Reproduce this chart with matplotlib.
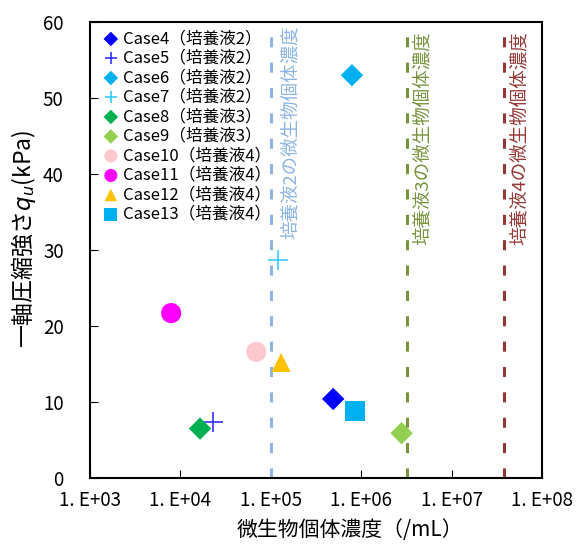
import numpy as np
import matplotlib.pyplot as plt

plt.rcParams['font.family'] = ['Noto Sans CJK JP', 'DejaVu Sans']
plt.rcParams['mathtext.fontset'] = 'dejavusans'

labels = ['Case4（培養液2）', 'Case5（培養液2）', 'Case6（培養液2）', 'Case7（培養液2）',
          'Case8（培養液3）', 'Case9（培養液3）', 'Case10（培養液4）', 'Case11（培養液4）',
          'Case12（培養液4）', 'Case13（培養液4）']
conc = [4.9e5, 2.3e4, 7.9e5, 1.2e5, 1.65e4, 2.8e6, 6.9e4, 7.9e3, 1.3e5, 8.5e5]
qu = [10.4, 7.4, 53.0, 28.7, 6.5, 5.9, 16.6, 21.7, 15.2, 8.8]

markers = ['D', '+', 'D', '+', 'D', 'D', 'o', 'o', '^', 's']
colors = ['#0000FF', '#3333FF', '#00B0F0', '#33CCFF', '#00B050', '#92D050',
          '#FFC7CE', '#FF00FF', '#FFC000', '#00B0F0']
sizes = [130, 190, 130, 190, 130, 130, 210, 210, 190, 200]

# 培養液ごとの微生物個体濃度
line_x = [1.0e5, 3.2e6, 3.8e7]
line_colors = ['#8DB4E2', '#77933C', '#953735']
line_labels = ['培養液2の微生物個体濃度', '培養液3の微生物個体濃度', '培養液4の微生物個体濃度']
text_top = [59.6, 58.8, 58.8]
text_dx = [11, 7, 7]

fig = plt.figure(figsize=(5.81, 5.44), dpi=100)
ax = fig.add_axes([90 / 581, 1 - 478 / 544, 452 / 581, 456 / 544])

for xv, c, t, yt, dx in zip(line_x, line_colors, line_labels, text_top, text_dx):
    ax.axvline(xv, color=c, lw=2.2, ls=(0, (3.3, 5)))
    ax.annotate(t, (xv, yt), xytext=(dx, 0), textcoords='offset pixels',
                rotation=90, color=c, fontsize=13.3, ha='left', va='top',
                annotation_clip=False)

for i in range(len(labels)):
    if markers[i] == '+':
        ax.scatter(conc[i], qu[i], marker='+', s=sizes[i], color=colors[i],
                   linewidths=1.2, label=labels[i], zorder=3)
    else:
        ax.scatter(conc[i], qu[i], marker=markers[i], s=sizes[i], color=colors[i],
                   edgecolors='none', label=labels[i], zorder=3)

ax.set_xscale('log')
ax.set_xlim(1e3, 1e8)
ax.set_ylim(0, 60)
ax.set_yticks(np.arange(0, 61, 10))
ax.set_xticks([1e3, 1e4, 1e5, 1e6, 1e7, 1e8])
ax.set_xticklabels(['1. E+03', '1. E+04', '1. E+05', '1. E+06', '1. E+07', '1. E+08'])
ax.minorticks_off()
ax.tick_params(axis='both', direction='in', length=6, labelsize=13.5)
ax.tick_params(axis='y', pad=19)
ax.tick_params(axis='x', pad=9)
for s in ax.spines.values():
    s.set_linewidth(1.5)

ax.set_xlabel('微生物個体濃度（/mL）', fontsize=15)
ax.xaxis.set_label_coords(0.575, -0.09)
ax.set_ylabel('一軸圧縮強さ$q_u$(kPa)', fontsize=16.5)
ax.yaxis.set_label_coords(-0.115, 0.524)

leg = ax.legend(loc='upper left', frameon=False, fontsize=12, handletextpad=0.0,
                borderaxespad=0.2, borderpad=0.3, labelspacing=0.15, handlelength=1.5,
                scatterpoints=1, markerscale=0.65)

fig.savefig('out.png', dpi=100)
